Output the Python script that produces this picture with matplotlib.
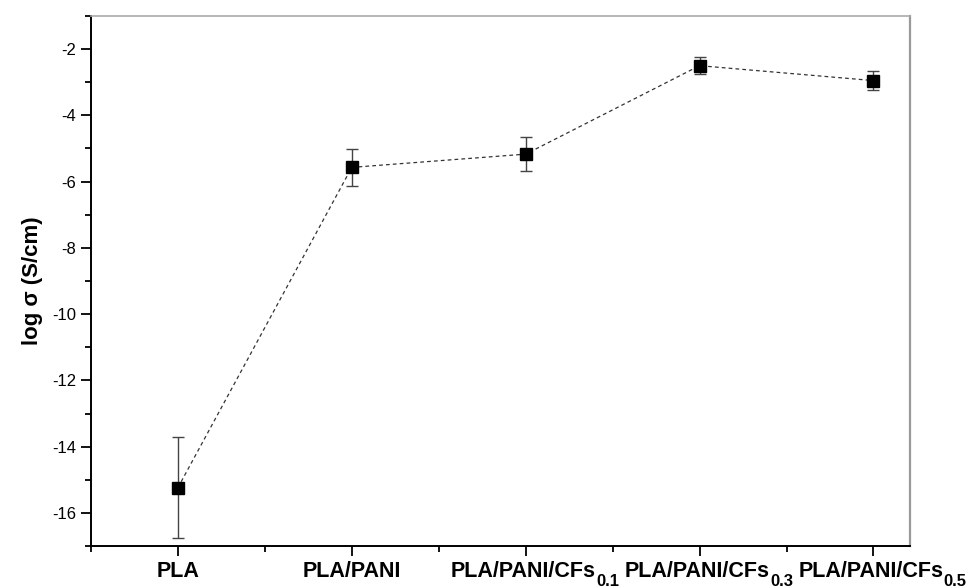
import matplotlib.pyplot as plt
from matplotlib.ticker import MultipleLocator

plt.rcParams['font.family'] = ['Liberation Sans', 'DejaVu Sans']
plt.rcParams['axes.unicode_minus'] = False

# log conductivity of each sample (name, subscript)
sample_names = ['PLA', 'PLA/PANI', 'PLA/PANI/CFs', 'PLA/PANI/CFs', 'PLA/PANI/CFs']
sample_subs = ['', '', '0.1', '0.3', '0.5']
log_sigma = [-15.24, -5.57, -5.17, -2.50, -2.95]
log_sigma_err = [1.52, 0.56, 0.52, 0.26, 0.29]


def draw_conductivity():
    fig = plt.figure(figsize=(9.75, 5.88), dpi=100)
    ax = fig.add_axes([0.0933, 0.0714, 0.84, 0.9014])

    x = list(range(1, len(log_sigma) + 1))
    ax.plot(x, log_sigma, linestyle=(0, (3, 2.5)), color='#333333', linewidth=0.9, zorder=2)
    ax.errorbar(x, log_sigma, yerr=log_sigma_err, fmt='none', ecolor='#444444',
                elinewidth=1.0, capsize=4.5, capthick=1.0, zorder=3)
    ax.plot(x, log_sigma, linestyle='none', marker='s', markersize=8,
            color='black', zorder=4)

    ax.set_xlim(0.5, 5.21)
    ax.set_ylim(-17, -1)
    ax.set_xticks(x)
    ax.set_xticklabels([''] * len(x))
    ax.xaxis.set_minor_locator(MultipleLocator(0.5))
    ax.yaxis.set_minor_locator(MultipleLocator(1))
    ax.set_yticks(range(-16, -1, 2))
    ax.tick_params(axis='y', which='major', labelsize=12, length=7, width=1.3, direction='out')
    ax.tick_params(axis='x', which='major', length=7, width=1.3, direction='out')
    ax.tick_params(which='minor', length=4, width=1.3, direction='out')

    # category labels, subscript hung after the name
    xtrans = ax.get_xaxis_transform()
    for xi, name, sub in zip(x, sample_names, sample_subs):
        shift = -2 if sub else 0
        base = ax.annotate(name, xy=(xi, 0), xycoords=xtrans,
                           xytext=(shift, -22), textcoords='offset points',
                           ha='center', va='baseline', fontsize=15.5, fontweight='bold',
                           annotation_clip=False)
        if sub:
            ax.annotate(sub, xy=(1, 0), xycoords=(base, xtrans), xytext=(0.5, -29),
                        textcoords='offset points', ha='left', va='baseline',
                        fontsize=12, fontweight='bold', annotation_clip=False)

    ax.set_ylabel('log σ (S/cm)', fontsize=16, fontweight='bold', labelpad=7)

    ax.spines['left'].set_linewidth(1.4)
    ax.spines['bottom'].set_linewidth(1.4)
    ax.spines['top'].set_color('#aaaaaa')
    ax.spines['top'].set_linewidth(1.2)
    ax.spines['right'].set_color('#999999')
    ax.spines['right'].set_linewidth(1.6)

    fig.savefig('out.png', dpi=100)


if __name__ == "__main__":
    draw_conductivity()
